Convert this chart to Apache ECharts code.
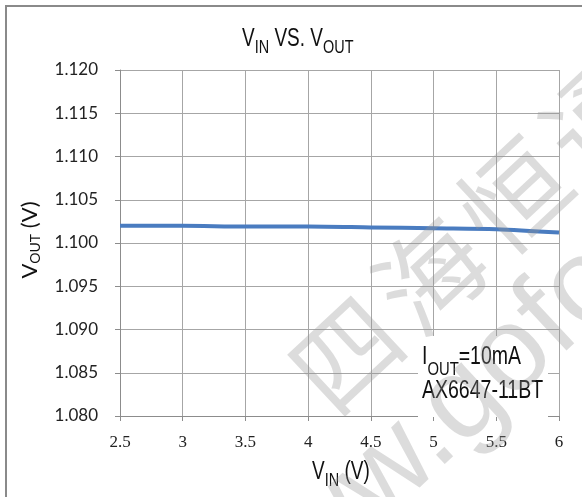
<!DOCTYPE html>
<html>
<head>
<meta charset="utf-8">
<script src="https://cdn.jsdelivr.net/npm/echarts@6/dist/echarts.min.js"></script>
<style>
  html, body { margin: 0; padding: 0; background: #fff; }
  #chart { width: 582px; height: 497px; }
</style>
</head>
<body>
<div id="chart"></div>
<script>
// Input voltage sweep (V) and the measured output voltage (V)
const vin = [2.5, 3, 3.5, 4, 4.5, 5, 5.5, 6];
const vout = [1.1020, 1.1020, 1.1019, 1.1019, 1.1018, 1.1017, 1.1016, 1.1012];
const xTicks = [2.5, 3, 3.5, 4, 4.5, 5, 5.5, 6];
const yTicks = [1.080, 1.085, 1.090, 1.095, 1.100, 1.105, 1.110, 1.115, 1.120];

const SANS = "'Liberation Sans', Arial, sans-serif";
const LABEL = "Lato, 'Open Sans', sans-serif";
const SERIF = "'Liberation Serif', 'DejaVu Serif', serif";

// condensed text with subscripts: main glyphs top-aligned, subscripts bottom-aligned
function subRich(lineH) {
  return {
    m: { fontFamily: SANS, fontSize: 25, lineHeight: lineH, verticalAlign: 'top', fill: '#111' },
    s: { fontFamily: SANS, fontSize: 19, lineHeight: 18, verticalAlign: 'bottom', fill: '#111' }
  };
}
function narrowText(x, y, text, lineH, scale, z) {
  return {
    type: 'text', x: x, y: y, scaleX: scale, z: z || 12, silent: true,
    style: { text: text, x: 0, y: 0, align: 'left', verticalAlign: 'top', fill: '#111', rich: subRich(lineH) }
  };
}

// watermark glyphs, laid out one by one along a slanted baseline
const WM_ANGLE = 43 * Math.PI / 180;
const WM_FILL = 'rgba(150,150,150,0.33)';
const wmChars = ['四', '海', '恒', '通'];
const wmGraphics = wmChars.map((c, i) => ({
  type: 'text', x: 346 + i * 84, y: 354 - i * 79, rotation: WM_ANGLE, z: 20, silent: true,
  style: { text: c, x: 0, y: 0, align: 'center', verticalAlign: 'middle',
           fontFamily: "'Noto Sans CJK SC'", fontSize: 106, fill: WM_FILL }
}));
wmGraphics.push({
  type: 'text', x: 229, y: 620, rotation: WM_ANGLE, z: 20, silent: true,
  style: { text: 'www.goford', x: 0, y: 0, align: 'left', verticalAlign: 'middle',
           fontFamily: SANS, fontSize: 120, fill: WM_FILL }
});

const chart = echarts.init(document.getElementById('chart'), null, { renderer: 'canvas' });

chart.setOption({
  backgroundColor: '#fff',
  animation: false,
  grid: { left: 120, right: 23, top: 70, bottom: 81 },
  xAxis: {
    type: 'value',
    min: 2.5, max: 6, interval: 0.5,
    axisLine: { show: true, lineStyle: { color: '#8c8c8c', width: 1 } },
    axisTick: { show: true, inside: false, length: 5, lineStyle: { color: '#8c8c8c' } },
    axisLabel: {
      fontFamily: SERIF, fontSize: 17, color: '#222', margin: 18,
      formatter: v => xTicks.includes(v) ? String(v) : ''
    },
    splitLine: { show: true, lineStyle: { color: '#a6a6a6', width: 1 } }
  },
  yAxis: {
    type: 'value',
    min: 1.080, max: 1.120, interval: 0.005,
    name: 'V{s|OUT} (V)',
    nameLocation: 'middle',
    nameGap: 78,
    nameRotate: 90,
    nameTextStyle: {
      fontFamily: LABEL, fontSize: 22, color: '#111', lineHeight: 24, padding: [0, 0, 0, 6],
      rich: { s: { fontFamily: LABEL, fontSize: 14, color: '#111', lineHeight: 14, verticalAlign: 'bottom' } }
    },
    axisLine: { show: true, lineStyle: { color: '#8c8c8c', width: 1 } },
    axisTick: { show: true, inside: false, length: 5, lineStyle: { color: '#8c8c8c' } },
    axisLabel: {
      fontFamily: LABEL, fontSize: 17, color: '#222', margin: 22,
      formatter: v => yTicks.find(t => Math.abs(t - v) < 1e-9).toFixed(3)
    },
    splitLine: { show: true, lineStyle: { color: '#a6a6a6', width: 1 } }
  },
  series: [{
    type: 'line',
    data: vin.map((x, i) => [x, vout[i]]),
    smooth: 0.3,
    symbol: 'none',
    lineStyle: { color: '#4a7cc0', width: 4 },
    z: 3
  }],
  graphic: [
    // outer frame
    { type: 'rect', shape: { x: 6, y: 6, width: 620, height: 620 }, style: { fill: 'none', stroke: '#8a8a8a', lineWidth: 2 }, z: 1, silent: true },
    // chart title and x-axis title
    narrowText(242, 27, '{m|V}{s|IN}{m| VS. V}{s|OUT}', 30, 0.76),
    narrowText(312, 460, '{m|V}{s|IN}{m| (V)}', 30, 0.76),
    // test condition note
    { type: 'rect', shape: { x: 418, y: 336, width: 130, height: 81 }, style: { fill: '#fff' }, z: 10, silent: true },
    narrowText(422, 345, '{m|I}{s|OUT}{m|=10mA}\n{m|AX6647-11BT}', 34, 0.78, 11)
  ].concat(wmGraphics)
});
</script>
</body>
</html>
